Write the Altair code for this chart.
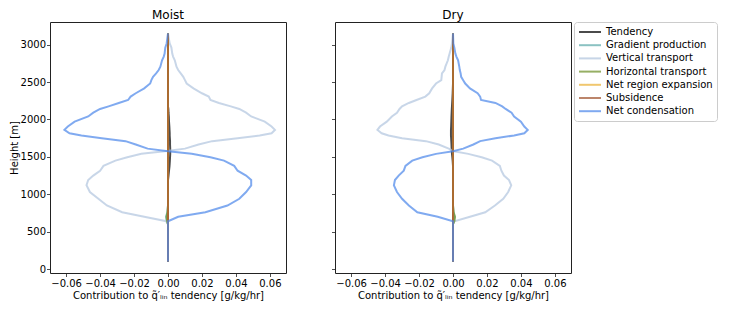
import altair as alt
import pandas as pd

series_names = ["Tendency", "Gradient production", "Vertical transport",
                "Horizontal transport", "Net region expansion", "Subsidence",
                "Net condensation"]
series_colors = ["#000000", "#5ba9a9", "#b0c4de", "#6b8e23", "#eab033", "#a0522d", "#4a86ea"]

heights = [100, 300, 500, 600, 640, 700, 760, 850, 940, 1030,
           1120, 1190, 1250, 1315, 1380, 1450, 1495, 1540, 1575, 1610,
           1665, 1710, 1750, 1785, 1815, 1860, 1905, 1970, 2040, 2090,
           2140, 2175, 2220, 2260, 2305, 2350, 2415, 2480, 2525, 2570,
           2615, 2660, 2705, 2790, 2840, 2880, 2960, 3015, 3150]

zeros = [0, 0, 0, 0, 0, 0, 0, 0, 0, 0,
         0, 0, 0, 0, 0, 0, 0, 0, 0, 0,
         0, 0, 0, 0, 0, 0, 0, 0, 0, 0,
         0, 0, 0, 0, 0, 0, 0, 0, 0, 0,
         0, 0, 0, 0, 0, 0, 0, 0, 0]

# ---- Moist ----
moist_tend = [0, 0, 0, 0, 0, 0, 0, 0, 0, 0,
              0, 0, 0.0003, 0.0006, 0.0009, 0.0011, 0.0012, 0.0013, 0.0013, 0.0013,
              0.0012, 0.0012, 0.0011, 0.001, 0.001, 0.0009, 0.0008, 0.0006, 0.0005, 0.0003,
              0.0002, 0, 0, 0, 0, 0, 0, 0, 0, 0,
              0, 0, 0, 0, 0, 0, 0, 0, 0]
moist_grad = [0, 0, 0, 0, -0.0008, -0.0012, -0.0004, 0, 0, 0,
              0, 0, 0, 0, 0, 0, 0, 0, 0, 0,
              0, 0, 0, 0, 0, 0, 0, 0, 0, 0,
              0, 0, 0, 0, 0, 0, 0, 0, 0, 0,
              0, 0, 0, 0, 0, 0, 0, 0, 0]
moist_vert = [0, 0, 0, 0, -0.001, -0.014, -0.027, -0.036, -0.041, -0.046,
              -0.048, -0.047, -0.044, -0.040, -0.038, -0.031, -0.024, -0.0157, -0.002, 0.010,
              0.018, 0.026, 0.041, 0.054, 0.061, 0.063, 0.061, 0.057, 0.049, 0.046,
              0.042, 0.037, 0.030, 0.025, 0.024, 0.020, 0.015, 0.011, 0.010, 0.009,
              0.0075, 0.006, 0.005, 0.004, 0.003, 0.0025, 0.002, 0.001, 0]
moist_horiz = [0, 0, 0, 0, -0.0005, -0.0008, -0.0003, 0, 0, 0,
               0, 0, 0, 0, 0, 0, 0, 0, 0, 0,
               0, 0, 0, 0, 0, 0, 0, 0, 0, 0,
               0, 0, 0, 0, 0, 0, 0, 0, 0, 0,
               0, 0, 0, 0, 0, 0, 0, 0, 0]
moist_cond = [0, 0, 0, 0, 0, 0.006, 0.022, 0.035, 0.042, 0.046,
              0.049, 0.049, 0.046, 0.041, 0.039, 0.033, 0.025, 0.014, 0.0, -0.012,
              -0.019, -0.025, -0.039, -0.051, -0.058, -0.061, -0.059, -0.055, -0.047, -0.044,
              -0.040, -0.035, -0.029, -0.0235, -0.022, -0.019, -0.014, -0.0105, -0.0098, -0.0088,
              -0.007, -0.0055, -0.0045, -0.0035, -0.0025, -0.002, -0.0016, -0.0008, 0]

# ---- Dry ----
dry_tend = [0, 0, 0, 0, 0, 0, 0, 0, 0, 0,
            0, 0, 0, 0, 0, -0.0002, -0.0004, -0.0006, -0.0007, -0.0008,
            -0.0009, -0.001, -0.0011, -0.0012, -0.0012, -0.0012, -0.0011, -0.001, -0.0009, -0.0008,
            -0.0007, -0.0006, -0.0005, -0.0004, -0.0003, -0.0002, -0.0001, 0, 0, 0,
            0, 0, 0, 0, 0, 0, 0, 0, 0]
dry_grad = [0, 0, 0, 0, 0.0006, 0.0009, 0.0003, 0, 0, 0,
            0, 0, 0, 0, 0, 0, 0, 0, 0, 0,
            0, 0, 0, 0, 0, 0, 0, 0, 0, 0,
            0, 0, 0, 0, 0, 0, 0, 0, 0, 0,
            0, 0, 0, 0, 0, 0, 0, 0, 0]
dry_vert = [0, 0, 0, 0, 0.0008, 0.010, 0.019, 0.0247, 0.0296, 0.0325,
            0.0343, 0.033, 0.030, 0.0285, 0.0276, 0.023, 0.0169, 0.009, 0.0005, -0.0025,
            -0.0084, -0.016, -0.030, -0.038, -0.042, -0.0445, -0.043, -0.039, -0.036, -0.033,
            -0.0315, -0.030, -0.026, -0.0215, -0.0163, -0.014, -0.0123, -0.010, -0.0069, -0.0067,
            -0.0065, -0.005, -0.0045, -0.003, -0.0025, -0.002, -0.001, -0.0006, 0]
dry_horiz = [0, 0, 0, 0, 0.0008, 0.0012, 0.0004, 0, 0, 0,
             0, 0, 0, 0, 0, 0, 0, 0, 0, 0,
             0, 0, 0, 0, 0, 0, 0, 0, 0, 0,
             0, 0, 0, 0, 0, 0, 0, 0, 0, 0,
             0, 0, 0, 0, 0, 0, 0, 0, 0]
dry_cond = [0, 0, 0, 0, 0, -0.009, -0.021, -0.026, -0.030, -0.033,
            -0.0348, -0.0342, -0.032, -0.029, -0.028, -0.024, -0.018, -0.010, 0.0, 0.006,
            0.012, 0.016, 0.025, 0.036, 0.042, 0.044, 0.042, 0.040, 0.036, 0.0345,
            0.031, 0.029, 0.025, 0.0165, 0.016, 0.0145, 0.010, 0.0072, 0.006, 0.0048,
            0.0045, 0.004, 0.0037, 0.003, 0.002, 0.0014, 0.0008, 0.0002, 0]

panels = {
    "Moist": [moist_tend, moist_grad, moist_vert, moist_horiz, zeros, zeros, moist_cond],
    "Dry": [dry_tend, dry_grad, dry_vert, dry_horiz, zeros, zeros, dry_cond],
}

rows = []
for pname, arrays in panels.items():
    for sname, vals in zip(series_names, arrays):
        assert len(vals) == len(heights)
        for h, v in zip(heights, vals):
            rows.append({"panel": pname, "series": sname, "height": h, "value": v})
df = pd.DataFrame(rows)

xtitle = "Contribution to q\u0303\u2032\u2097\u1d62\u2099 tendency [g/kg/hr]"
xticks = [-0.06, -0.04, -0.02, 0.0, 0.02, 0.04, 0.06]
yticks = [0, 500, 1000, 1500, 2000, 2500, 3000]

color = alt.Color("series:N",
                  scale=alt.Scale(domain=series_names, range=series_colors),
                  legend=alt.Legend(title=None, orient="right", offset=2,
                                    symbolType="M-2.2,0H2.2", symbolStrokeWidth=2,
                                    symbolSize=100, symbolOpacity=0.7,
                                    symbolOffset=6, labelOffset=10,
                                    labelFontSize=10, rowPadding=2.2,
                                    padding=4, strokeColor="#cccccc",
                                    cornerRadius=3, fillColor="white",
                                    labelExpr="datum.label + '          '",
                                    labelLimit=250))


def panel(name, first):
    base = alt.Chart(df).transform_filter(alt.datum.panel == name)
    layers = []
    for s in series_names:
        layers.append(
            base.transform_filter(alt.datum.series == s)
            .mark_line(strokeWidth=2, opacity=0.7)
            .encode(
                x=alt.X("value:Q",
                        scale=alt.Scale(domain=[-0.0695, 0.0695], nice=False, zero=False),
                        axis=alt.Axis(values=xticks, format=".2f", title=xtitle)),
                y=alt.Y("height:Q",
                        scale=alt.Scale(domain=[-52, 3302], nice=False, zero=False),
                        axis=alt.Axis(values=yticks, labels=first, format="d",
                                      labelPadding=1, titlePadding=1,
                                      title="Height [m]" if first else None)),
                color=color,
                order=alt.Order("height:Q"),
            )
        )
    return alt.layer(*layers).properties(
        width=236, height=251,
        title=alt.TitleParams(name, fontSize=12, fontWeight="normal", offset=0))


chart = alt.hconcat(panel("Moist", True), panel("Dry", False), spacing=43).properties(
    padding={"left": 0, "top": 0, "right": 2, "bottom": 0}
).configure_view(stroke="#222222", strokeWidth=1).configure_axis(
    grid=False, domain=False, tickColor="#222222", tickSize=3.5, tickWidth=0.8,
    labelFontSize=10, titleFontSize=10, labelColor="#000000", titleColor="#000000",
    labelFont="DejaVu Sans", titleFont="DejaVu Sans", titleFontWeight="normal",
    labelPadding=2, titlePadding=2
).configure_legend(labelFont="DejaVu Sans", labelColor="#000000").configure_title(
    font="DejaVu Sans", color="#000000"
)

chart.save("out.html", embed_options={"renderer": "svg", "actions": False})
